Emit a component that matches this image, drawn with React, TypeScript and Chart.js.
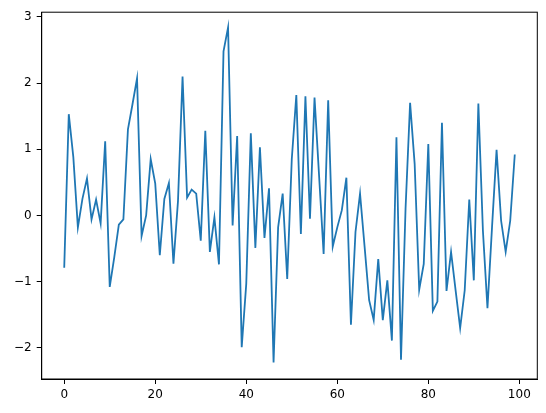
import React, { useEffect, useRef } from "react";
import { Chart, registerables } from "chart.js";

Chart.register(...registerables);

// series values, one per x step (0..99)
const seriesValues: number[] = [
  -0.79, 1.53, 0.88, -0.18, 0.25, 0.56, -0.06, 0.24, -0.12, 1.12,
  -1.08, -0.63, -0.14, -0.06, 1.3, 1.68, 2.07, -0.31, 0.0, 0.85,
  0.48, -0.6, 0.25, 0.49, -0.73, 0.22, 2.1, 0.27, 0.39, 0.33,
  -0.38, 1.28, -0.55, -0.03, -0.74, 2.48, 2.84, -0.15, 1.2, -1.99,
  -1.03, 1.24, -0.49, 1.03, -0.34, 0.41, -2.22, -0.18, 0.33, -0.96,
  0.85, 1.82, -0.28, 1.8, -0.05, 1.78, 0.6, -0.58, 1.74, -0.47,
  -0.18, 0.08, 0.57, -1.65, -0.25, 0.33, -0.47, -1.28, -1.58, -0.66,
  -1.58, -0.98, -1.89, 1.18, -2.18, 0.1, 1.7, 0.78, -1.12, -0.73,
  1.08, -1.44, -1.3, 1.4, -1.14, -0.55, -1.13, -1.7, -1.13, 0.24,
  -0.98, 1.69, -0.23, -1.4, -0.18, 0.99, -0.08, -0.55, -0.08, 0.92,
];
const xValues: number[] = seriesValues.map((_, i) => i);

const xTicks = [0, 20, 40, 60, 80, 100];
const yTicks = [-2, -1, 0, 1, 2, 3];

const LINE_COLOR = "#1f77b4";
const FONT = { family: "'DejaVu Sans', sans-serif", size: 12 };

// matplotlib writes negatives with a real minus sign
const fmt = (v: number | string) => String(v).replace("-", "\u2212");

// frame round the plot area (all four spines)
const framePlugin = {
  id: "frame",
  afterDraw(chart: Chart) {
    const { ctx, chartArea } = chart;
    ctx.save();
    ctx.strokeStyle = "#000";
    ctx.lineWidth = 1;
    ctx.strokeRect(chartArea.left, chartArea.top, chartArea.right - chartArea.left, chartArea.bottom - chartArea.top);
    ctx.restore();
  },
};

export default function App() {
  const canvasRef = useRef<HTMLCanvasElement>(null);

  useEffect(() => {
    document.body.style.margin = "0";
    if (!canvasRef.current) return;
    const chart = new Chart(canvasRef.current, {
      type: "line",
      data: {
        datasets: [
          {
            data: xValues.map((x, i) => ({ x, y: seriesValues[i] })),
            borderColor: LINE_COLOR,
            borderWidth: 1.8,
            pointRadius: 0,
            tension: 0,
            fill: false,
          },
        ],
      },
      options: {
        animation: false,
        responsive: false,
        maintainAspectRatio: false,
        layout: { padding: { left: 0, top: 10.7, right: 8.7, bottom: 0 } },
        plugins: { legend: { display: false }, tooltip: { enabled: false } },
        scales: {
          x: {
            type: "linear",
            min: -4.95,
            max: 103.95,
            afterBuildTicks: (scale: any) => {
              scale.ticks = xTicks.map((v) => ({ value: v }));
            },
            afterFit: (scale: any) => {
              scale.height = 34;
            },
            grid: { drawOnChartArea: false, drawTicks: true, tickLength: 5, tickColor: "#000", tickWidth: 1 },
            border: { display: true, color: "#000", width: 1 },
            ticks: { color: "#000", font: FONT, padding: 4, maxRotation: 0, callback: (v) => fmt(v) },
          },
          y: {
            type: "linear",
            min: -2.47,
            max: 3.07,
            afterBuildTicks: (scale: any) => {
              scale.ticks = yTicks.map((v) => ({ value: v }));
            },
            afterFit: (scale: any) => {
              scale.width = 41.7;
            },
            grid: { drawOnChartArea: false, drawTicks: true, tickLength: 5, tickColor: "#000", tickWidth: 1 },
            border: { display: true, color: "#000", width: 1 },
            ticks: { color: "#000", font: FONT, padding: 5, callback: (v) => fmt(v) },
          },
        },
      },
      plugins: [framePlugin],
    });
    return () => {
      chart.destroy();
    };
  }, []);

  return (
    <div style={{ width: 546, height: 413, background: "#fff" }}>
      <canvas ref={canvasRef} width={546} height={413} style={{ width: 546, height: 413 }} />
    </div>
  );
}
